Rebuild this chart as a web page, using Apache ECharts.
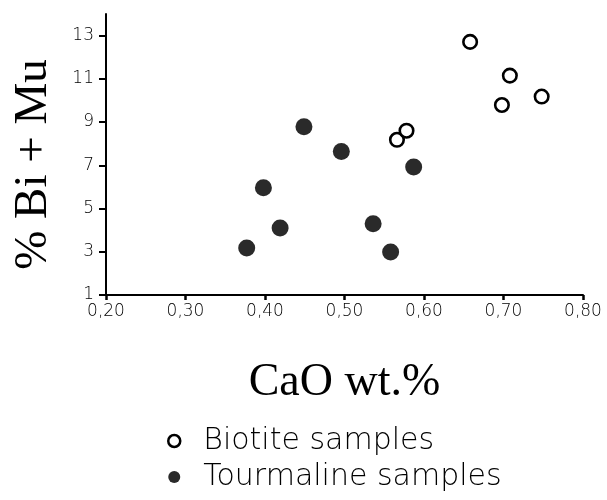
<!DOCTYPE html>
<html>
<head>
<meta charset="utf-8">
<script src="https://cdn.jsdelivr.net/npm/echarts@6/dist/echarts.min.js"></script>
<style>
html,body{margin:0;padding:0;background:#fff;}
#chart{width:607px;height:500px;}
</style>
</head>
<body>
<div id="chart"></div>
<script>
// Data
const biotiteCaO = [0.566, 0.578, 0.658, 0.708, 0.698, 0.748];
const biotiteBiMu = [8.18, 8.60, 12.71, 11.15, 9.79, 10.18];
const tourmalineCaO = [0.377, 0.398, 0.419, 0.449, 0.496, 0.536, 0.558, 0.587];
const tourmalineBiMu = [3.17, 5.96, 4.10, 8.78, 7.64, 4.30, 2.99, 6.92];
const yTicks = [1, 3, 5, 7, 9, 11, 13];
const xTicks = [0.20, 0.30, 0.40, 0.50, 0.60, 0.70, 0.80];
const seriesNames = ['Biotite samples', 'Tourmaline samples'];
const xTitle = 'CaO wt.%';
const yTitle = '% Bi + Mu';

const zip = (a, b) => a.map((v, i) => [v, b[i]]);
const chart = echarts.init(document.getElementById('chart'), null, {renderer: 'canvas'});
const labelFont = {fontFamily: 'DejaVu Sans', fontSize: 17, fontWeight: 200, color: '#000'};
chart.setOption({
  animation: false,
  backgroundColor: '#fff',
  grid: {left: 106, right: 24, top: 14, bottom: 205, containLabel: false},
  xAxis: {
    type: 'value', min: 0.2, max: 0.8, interval: 0.1,
    name: xTitle, nameLocation: 'middle', nameGap: 65,
    nameTextStyle: {fontFamily: 'Liberation Serif', fontSize: 46, color: '#000'},
    axisLine: {show: true, onZero: false, lineStyle: {color: '#000', width: 2}},
    axisTick: {show: true, inside: false, length: 5, lineStyle: {color: '#000', width: 2.5}, customValues: xTicks},
    axisLabel: Object.assign({margin: 8, customValues: xTicks, formatter: v => v.toFixed(2).replace('.', ',')}, labelFont),
    splitLine: {show: false}
  },
  yAxis: {
    type: 'value', min: 1, max: 14,
    name: yTitle, nameLocation: 'middle', nameGap: 49, nameRotate: 90,
    nameTextStyle: {fontFamily: 'Liberation Serif', fontSize: 47, color: '#000', padding: [0, 20, 0, 0]},
    axisLine: {show: true, onZero: false, lineStyle: {color: '#000', width: 2}},
    axisTick: {show: true, inside: false, length: 7, lineStyle: {color: '#000', width: 2}, customValues: yTicks},
    axisLabel: Object.assign({margin: 12, customValues: yTicks}, labelFont),
    splitLine: {show: false}
  },
  legend: {
    orient: 'vertical', left: 167, top: 426, height: 120, padding: 0, itemGap: 6,
    itemWidth: 12, itemHeight: 12,
    data: [
      {name: seriesNames[0], icon: 'circle', itemStyle: {color: '#fff', borderColor: '#000', borderWidth: 2.5}},
      {name: seriesNames[1], icon: 'circle', itemStyle: {color: '#2a2a2a', borderWidth: 0}}
    ],
    textStyle: {fontFamily: 'DejaVu Sans', fontSize: 30, fontWeight: 200, color: '#000', lineHeight: 28, padding: [0, 0, 0, 18]}
  },
  series: [
    {
      name: seriesNames[0], type: 'scatter', symbol: 'circle', symbolSize: 13.5, z: 3,
      itemStyle: {color: '#fff', borderColor: '#000', borderWidth: 2.6, opacity: 1},
      data: zip(biotiteCaO, biotiteBiMu)
    },
    {
      name: seriesNames[1], type: 'scatter', symbol: 'circle', symbolSize: 17, z: 2,
      itemStyle: {color: '#2a2a2a', opacity: 1},
      data: zip(tourmalineCaO, tourmalineBiMu)
    }
  ]
});
</script>
</body>
</html>
